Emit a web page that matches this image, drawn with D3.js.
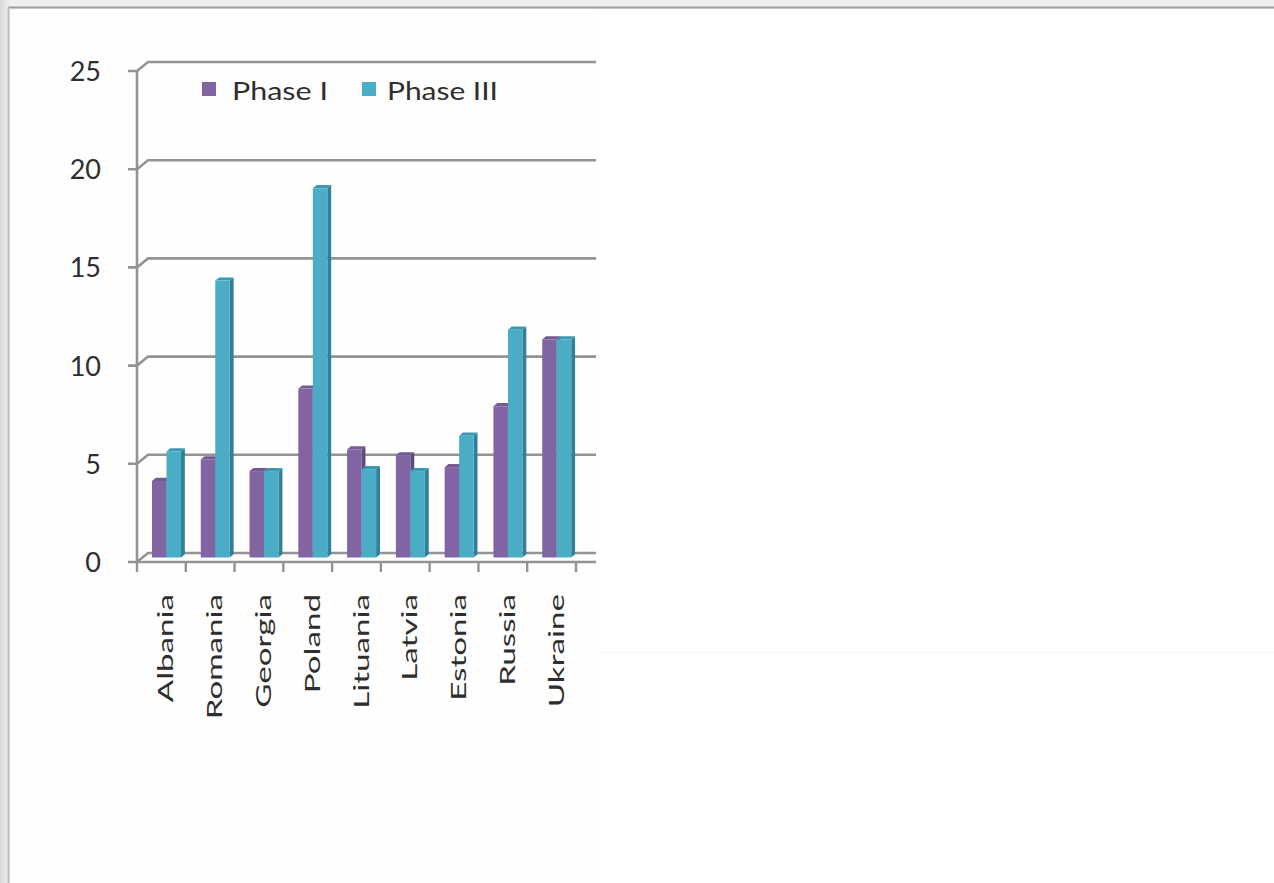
<!DOCTYPE html>
<html>
<head>
<meta charset="utf-8">
<script src="https://cdn.jsdelivr.net/npm/d3@7"></script>
<style>
  html, body { margin: 0; padding: 0; background: #ffffff; overflow: hidden; }
  svg { display: block; }
  text { font-family: Lato, "Open Sans", "DejaVu Sans", sans-serif; fill: #2e2e2e; }
</style>
</head>
<body>
<svg id="chart" width="1274" height="883"></svg>
<script>
// ---- data ----
const categories = ["Albania", "Romania", "Georgia", "Poland", "Lituania", "Latvia", "Estonia", "Russia", "Ukraine"];
const seriesNames = ["Phase I", "Phase III"];
const phase1 = [3.9, 5.0, 4.4, 8.6, 5.5, 5.2, 4.6, 7.7, 11.1];
const phase3 = [5.4, 14.1, 4.4, 18.8, 4.5, 4.4, 6.2, 11.6, 11.1];
const yTicks = [0, 5, 10, 15, 20, 25];

const colors = {
  "Phase I":   { front: "#8165a3", side: "#5e4a7c", top: "#735a93" },
  "Phase III": { front: "#4bacc6", side: "#2e8199", top: "#3c98b1" }
};

const svg = d3.select("#chart");

// ---- page frame ----
const defs = svg.append("defs");
const lg = defs.append("linearGradient").attr("id", "leftband").attr("x1", 0).attr("x2", 1).attr("y1", 0).attr("y2", 0);
lg.append("stop").attr("offset", "0%").attr("stop-color", "#d9d9d9");
lg.append("stop").attr("offset", "100%").attr("stop-color", "#eeeeee");
svg.append("rect").attr("x", 0).attr("y", 0).attr("width", 1274).attr("height", 883).attr("fill", "#efefef");
svg.append("rect").attr("x", 0).attr("y", 0).attr("width", 9).attr("height", 883).attr("fill", "url(#leftband)");
svg.append("rect").attr("x", 10).attr("y", 9).attr("width", 1264).attr("height", 874).attr("fill", "#fefefe");
svg.append("rect").attr("x", 596).attr("y", 10).attr("width", 678).attr("height", 873).attr("fill", "#ffffff");
svg.append("line").attr("x1", 8).attr("x2", 1274).attr("y1", 7.5).attr("y2", 7.5).attr("stroke", "#9d9d9d").attr("stroke-width", 2);
svg.append("line").attr("x1", 8.5).attr("x2", 8.5).attr("y1", 7).attr("y2", 883).attr("stroke", "#bdbdbd").attr("stroke-width", 2);
svg.append("line").attr("x1", 596).attr("x2", 1274).attr("y1", 653).attr("y2", 653).attr("stroke", "#f6f6f6").attr("stroke-width", 1);

// ---- scales ----
const x = d3.scaleBand().domain(categories).range([137, 576]).paddingInner(0).paddingOuter(0);
const xs = d3.scaleBand().domain(seriesNames).range([0, 29]).padding(0);
const y = d3.scaleLinear().domain([0, 25]).range([562, 71]);

// depth projection (fraction of wall depth)
const DX = 11, DY = -9;
const dFront = 0.5, dBack = 0.85;

const clip = defs.append("clipPath").attr("id", "plotclip");
clip.append("rect").attr("x", 0).attr("y", 0).attr("width", 596).attr("height", 883);

const plot = svg.append("g").attr("clip-path", "url(#plotclip)");

// ---- gridlines / walls ----
const gridColor = "#939393";
yTicks.forEach(t => {
  const yf = y(t), yb = y(t) + DY;
  plot.append("path")
    .attr("d", `M128,${yf} L137,${yf} L${137 + DX},${yb} L600,${yb}`)
    .attr("fill", "none").attr("stroke", gridColor).attr("stroke-width", 2.6);
});
// floor front edge
plot.append("line").attr("x1", 137).attr("x2", 600).attr("y1", y(0)).attr("y2", y(0))
  .attr("stroke", gridColor).attr("stroke-width", 2.6);
// y axis vertical
plot.append("line").attr("x1", 137).attr("x2", 137).attr("y1", y(25)).attr("y2", y(0))
  .attr("stroke", gridColor).attr("stroke-width", 2.6);
// x ticks
const bounds = categories.map(c => x(c)).concat([x.range()[1]]);
bounds.forEach(bx => {
  plot.append("line").attr("x1", bx).attr("x2", bx).attr("y1", y(0)).attr("y2", y(0) + 10)
    .attr("stroke", gridColor).attr("stroke-width", 2.4);
});

// ---- bars ----
const rows = categories.map((c, i) => ({ cat: c, vals: [phase1[i], phase3[i]] }));
const bw = xs.bandwidth();
const sdx = DX * (dBack - dFront), sdy = DY * (dBack - dFront);
rows.forEach(r => {
  r.vals.forEach((v, k) => {
    const s = seriesNames[k];
    const col = colors[s];
    const xl = x(r.cat) + 15 + xs(s);
    const top = y(v) + DY * dFront;
    const bot = y(0) + DY * dFront;
    const xr = xl + bw;
    const g = plot.append("g");
    g.append("polygon")
      .attr("points", `${xr},${bot} ${xr},${top} ${xr + sdx},${top + sdy} ${xr + sdx},${bot + sdy}`)
      .attr("fill", col.side);
    g.append("polygon")
      .attr("points", `${xl},${top} ${xr},${top} ${xr + sdx},${top + sdy} ${xl + sdx},${top + sdy}`)
      .attr("fill", col.top);
    g.append("rect").attr("x", xl).attr("y", top).attr("width", bw).attr("height", bot - top)
      .attr("fill", col.front);
  });
});

// ---- y tick labels ----
svg.append("g").selectAll("text").data(yTicks).join("text")
  .attr("x", 101).attr("y", d => y(d) + 10)
  .attr("text-anchor", "end")
  .attr("font-size", 27)
  .text(d => d);

// ---- category labels (rotated) ----
const catG = svg.append("g");
categories.forEach(c => {
  const cx = x(c) + x.bandwidth() / 2 + 12;
  const t = catG.append("text")
    .attr("transform", `translate(${cx},594) rotate(-90)`)
    .attr("text-anchor", "end")
    .attr("font-size", 21)
    .text(c);
  const w = t.node().getComputedTextLength();
  t.attr("textLength", w * 1.58).attr("lengthAdjust", "spacingAndGlyphs");
});

// ---- legend ----
const legend = svg.append("g");
const legItems = [
  { name: "Phase I", sx: 202, tx: 232, tw: 96 },
  { name: "Phase III", sx: 362, tx: 387, tw: 111 }
];
legItems.forEach(li => {
  legend.append("rect").attr("x", li.sx).attr("y", 82).attr("width", 14).attr("height", 14)
    .attr("fill", colors[li.name].front);
  legend.append("text").attr("x", li.tx).attr("y", 100).attr("font-size", 25)
    .attr("textLength", li.tw).attr("lengthAdjust", "spacingAndGlyphs")
    .text(li.name);
});
</script>
</body>
</html>
